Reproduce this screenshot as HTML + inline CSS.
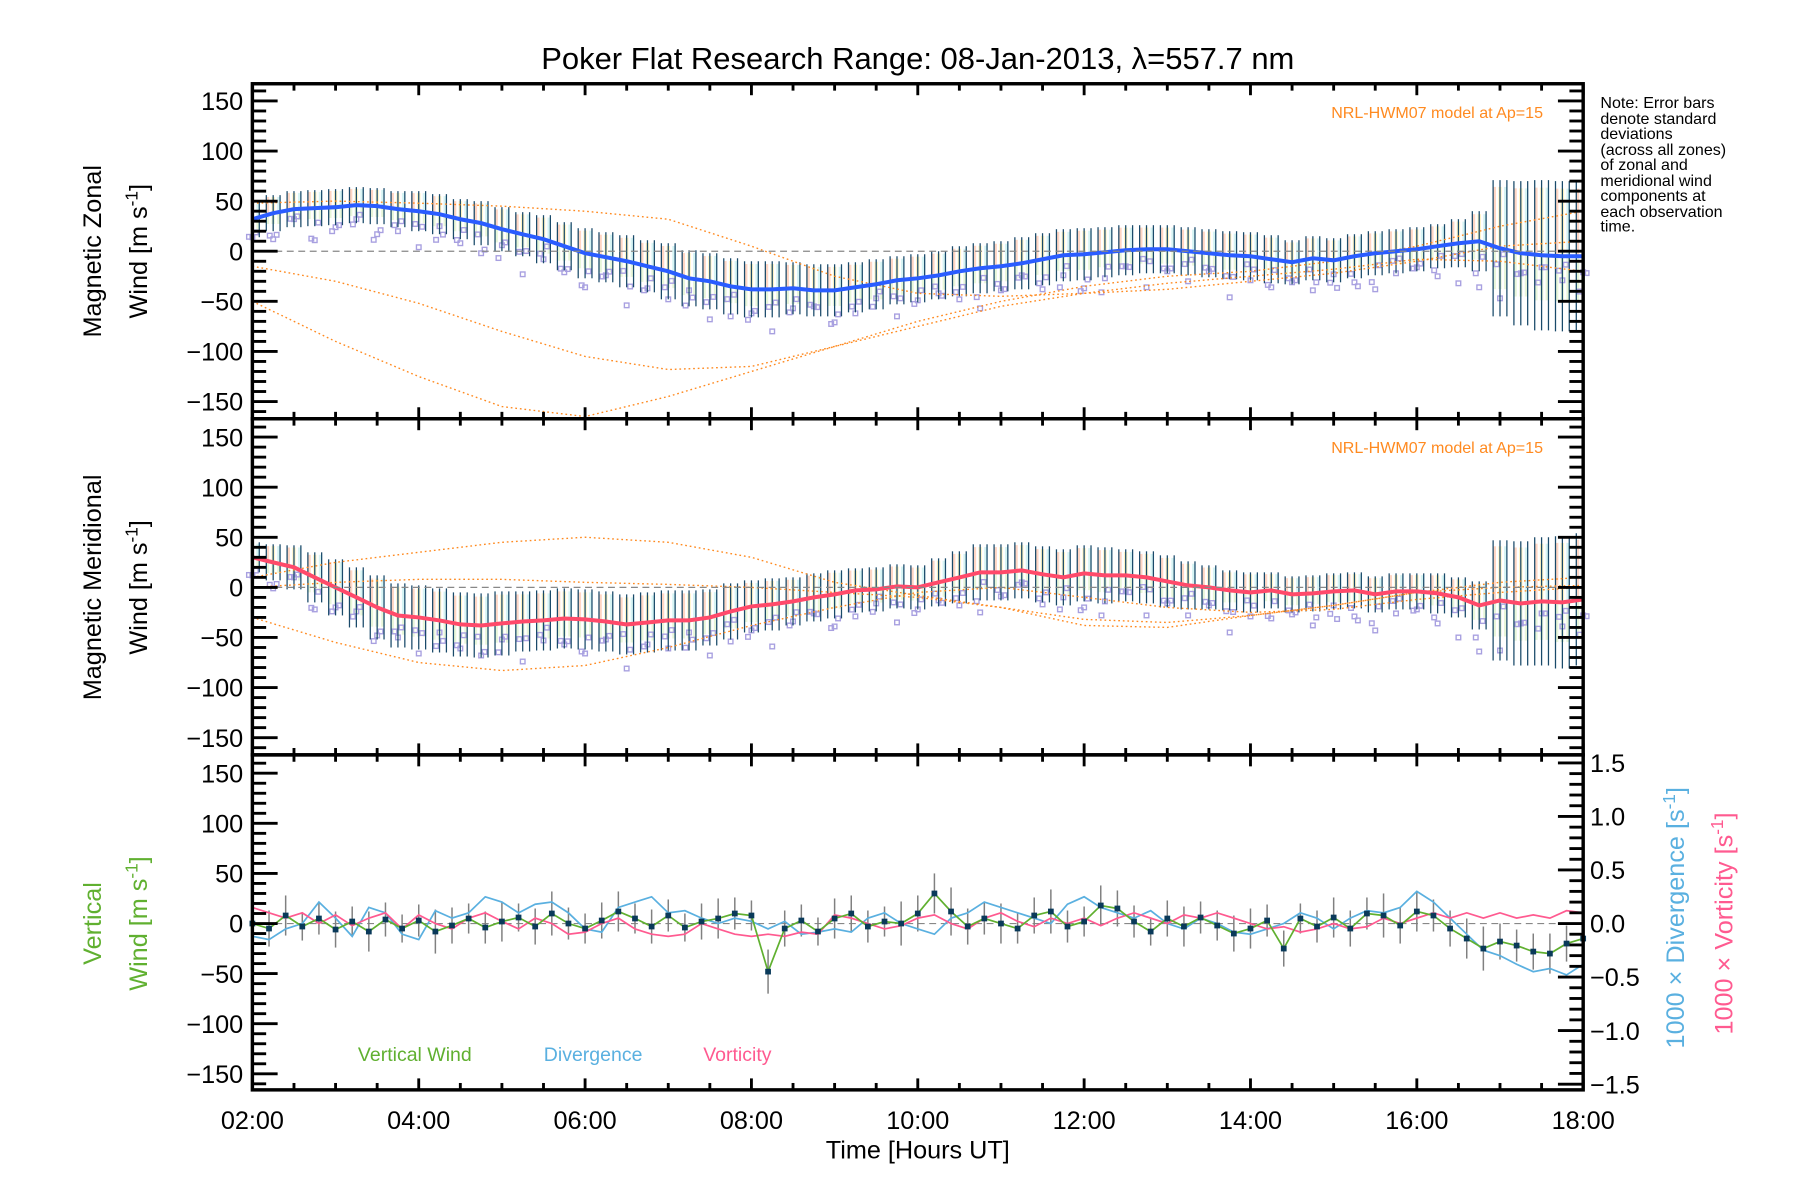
<!DOCTYPE html>
<html><head><meta charset="utf-8">
<style>
html,body{margin:0;padding:0;background:#fff;}
svg{display:block;font-family:"Liberation Sans",sans-serif;}
</style></head>
<body>
<svg id="chart" width="1800" height="1200" viewBox="0 0 1569 1046" preserveAspectRatio="none" xmlns="http://www.w3.org/2000/svg">
<rect x="0" y="0" width="1569" height="1046" fill="#fff"/>
<text x="800" y="60" font-size="27" text-anchor="middle">Poker Flat Research Range: 08-Jan-2013, λ=557.7 nm</text>
<g id="layer"></g>
</svg>
<script>
// ---- data ----
const zonalMean=[32,38,42,43,44,46,45,42,40,37,32,28,22,17,12,5,-2,-6,-10,-15,-20,-27,-30,-35,-38,-38,-37,-39,-39,-36,-33,-29,-27,-24,-20,-17,-15,-12,-8,-4,-3,-1,1,2,2,0,-2,-4,-5,-8,-11,-7,-9,-5,-2,0,2,5,8,10,3,-2,-4,-5,-5];
const zonalStd=[18,18,18,18,18,18,18,18,20,20,20,22,22,22,24,24,25,25,26,26,28,28,28,28,28,28,26,26,26,25,25,24,24,24,25,25,25,26,26,26,26,25,25,24,24,24,24,24,24,24,22,22,22,22,22,22,22,22,24,30,68,72,75,75,75];
const meridMean=[30,25,20,10,0,-10,-20,-28,-30,-33,-37,-38,-36,-34,-33,-31,-32,-34,-37,-35,-33,-33,-30,-24,-19,-17,-14,-10,-7,-3,-2,1,0,5,10,15,15,17,13,10,14,12,12,10,6,2,0,-3,-5,-3,-7,-6,-4,-3,-7,-4,-4,-6,-10,-18,-13,-16,-14,-15,-12];
const meridStd=[15,18,22,25,28,30,32,32,32,32,32,32,32,30,30,30,30,30,30,30,30,30,28,28,26,26,24,24,24,22,22,22,22,24,26,28,28,28,28,28,28,28,26,26,26,24,22,20,20,18,18,18,18,18,18,18,18,20,20,24,60,62,64,66,66];
const scatterOffsets=[-18,-26,-10,-32,-20,-14,-28,-22,-36,-12,-24,-30,-16,-40,-20,-26,-34,-18,-44,-22,-28,-12,-38,-30,-24,-42,-20,-16,-32,-26,-14,-36,-22,-18,-28,-40,-24,-12,-30,-20,-34,-26,-16,-38,-22,-30,-18,-42,-24,-28,-20,-32,-14,-26,-36,-22,-18,-30,-40,-46,-50,-20,-12,-24,-16];
const modelHours=[2,3,4,5,6,7,8,9,10,11,12,13,14,15,16,17,18];
const zonalModelA=[48,50,48,45,40,32,5,-25,-42,-45,-42,-38,-30,-22,-10,5,10];
const zonalModelB=[-15,-30,-52,-80,-105,-118,-115,-95,-75,-55,-42,-32,-25,-18,-8,-10,-20];
const zonalModelC=[-50,-90,-125,-155,-165,-145,-120,-95,-70,-50,-35,-25,-20,-10,5,25,40];
const meridModelA=[10,25,35,45,50,45,30,5,-8,-20,-32,-35,-28,-18,-5,5,10];
const meridModelB=[-30,-55,-75,-83,-78,-60,-38,-20,-5,0,-10,-20,-25,-22,-12,-5,0];
const meridModelC=[0,5,8,8,5,3,0,-5,-10,-20,-38,-40,-28,-18,-5,0,2];
const vertWind=[0,-5,8,-3,5,-6,2,-8,4,-5,3,-8,-2,5,-4,2,6,-3,10,0,-5,3,12,5,-3,8,-4,2,5,10,8,-48,-5,3,-8,5,10,-3,2,0,10,30,12,-3,5,0,-5,8,12,-3,2,18,15,2,-8,5,-3,6,-2,-10,-5,3,-25,5,-3,6,-5,10,8,-2,12,8,-5,-15,-25,-18,-22,-28,-30,-20,-15];
const vertErr=[15,18,20,14,16,18,15,20,17,14,16,22,18,15,16,20,14,18,22,16,15,18,20,15,17,16,14,18,20,16,15,22,18,16,14,20,18,16,15,22,18,20,24,18,16,20,15,18,22,16,15,20,18,16,14,18,20,16,15,18,20,16,18,15,16,20,18,16,22,18,20,16,18,20,22,18,16,18,20,18,16];
const divergence=[-0.12,-0.15,-0.05,0.0,0.2,0.05,-0.12,0.15,0.1,-0.1,-0.15,0.12,0.05,0.1,0.25,0.2,0.1,0.18,0.2,0.1,-0.05,-0.08,0.15,0.2,0.25,0.1,0.12,0.05,0.0,0.05,0.02,-0.05,0.02,-0.1,-0.08,-0.05,-0.08,0.05,0.1,0.0,-0.05,-0.1,0.05,0.1,0.2,0.15,0.1,0.05,0.0,0.18,0.25,0.15,0.1,0.05,0.12,0.0,-0.05,0.05,0.0,-0.08,-0.1,-0.05,0.0,0.1,0.05,-0.05,0.05,0.12,0.1,0.15,0.3,0.2,0.05,-0.1,-0.25,-0.3,-0.38,-0.45,-0.42,-0.48,-0.38];
const vorticity=[0.15,0.1,0.05,0.1,0.0,0.08,-0.02,0.05,0.1,-0.05,0.08,0.0,-0.05,0.05,0.1,0.02,-0.05,0.05,0.0,-0.1,-0.08,0.0,0.05,-0.05,-0.1,-0.12,-0.1,0.0,-0.05,-0.1,-0.12,-0.1,-0.12,-0.08,-0.1,0.08,0.05,0.0,-0.05,-0.02,0.05,0.08,0.0,-0.05,0.05,0.1,0.02,-0.03,0.05,0.0,0.05,-0.02,0.05,0.1,0.05,0.0,0.08,0.05,0.1,0.05,0.0,-0.05,-0.03,-0.08,-0.05,0.0,-0.05,-0.03,0.05,0.0,0.05,0.1,0.05,0.1,0.05,0.1,0.05,0.08,0.05,0.12,0.1];
const xTickLabels=["02:00","04:00","06:00","08:00","10:00","12:00","14:00","16:00","18:00"];
const yTickValues=[150,100,50,0,-50,-100,-150];
const rightTickValues=[1.5,1.0,0.5,0.0,-0.5,-1.0,-1.5];

// ---- layout ----
const NS="http://www.w3.org/2000/svg";
const layer=document.getElementById('layer');
const X0=220,X1=1380;
const panels=[{top:73,bot:365,zero:219},{top:365,bot:658,zero:512},{top:658,bot:950,zero:805}];
const PXU=131/150;
function xs(h){return X0+(h-2)*(X1-X0)/16;}
function ys(p,v){return panels[p].zero-v*PXU;}
function yr(v){return 805-v*(140/1.5);}
function tAt(i,n){return 2+i*16/(n-1);}
function mk(tag,attrs,parent){const e=document.createElementNS(NS,tag);for(const k in attrs)e.setAttribute(k,attrs[k]);(parent||layer).appendChild(e);return e;}
function poly(pts,attrs){return mk('polyline',Object.assign({points:pts.map(p=>p[0].toFixed(1)+','+p[1].toFixed(1)).join(' '),fill:'none'},attrs));}
function clip(v){return Math.max(-166,Math.min(166,v));}

// panels 1 and 2
[[zonalMean,zonalStd,[zonalModelA,zonalModelB,zonalModelC],'#2a5cff'],[meridMean,meridStd,[meridModelA,meridModelB,meridModelC],'#ff4a6a']].forEach((set,p)=>{
  const [mean,std,models,col]=set;const n=mean.length;
  const g=mk('g',{});
  
  
  const tints=['#ffc8b0','#fff0b0','#c8f0f0'];
  mean.forEach((m,i)=>{
    const x=xs(tAt(i,n));const s=std[i];
    [-5,0,5].forEach((dx,k)=>{
      const xx=x+dx; if(xx<X0+2||xx>X1-2)return;
      const r1=mk('rect',{x:xx-1.5,y:ys(p,clip(m+s*0.9)),width:3,height:s*0.9*PXU,fill:tints[k],opacity:0.75},g);
      
      
      const r2=mk('rect',{x:xx-1.5,y:ys(p,m),width:3,height:s*0.6*PXU,fill:'#d8f0c0',opacity:0.6},g);
      
      
    });
    [[0,scatterOffsets[i]],[3,scatterOffsets[(i+7)%n]*0.6],[-3,scatterOffsets[(i+19)%n]*0.8]].forEach(([dx,off])=>{
      const sq=mk('rect',{x:x+dx-2,y:ys(p,m+off)-2,width:4,height:4,fill:'none',stroke:'#a8a0e0','stroke-width':1.2},g);
      
      
    });
  });
  mean.forEach((m,i)=>{
    const x=xs(tAt(i,n));const s=std[i];
    for(const dx of [-6,0,6]){
      const xx=x+dx; if(xx<X0||xx>X1)continue;
      const l=mk('line',{x1:xx,x2:xx,y1:ys(p,clip(m-s)),y2:ys(p,clip(m+s)),stroke:'#1a4a6a','stroke-width':1.1},g);
      
      
    }
  });
  models.forEach((md)=>{
    const pl=poly(md.map((v,i)=>[xs(modelHours[i]),ys(p,v)]),{stroke:'#ff8a20','stroke-width':1.2,'stroke-dasharray':'1.5 2.5'});
    
    
  });
  const ml=poly(mean.map((v,i)=>[xs(tAt(i,n)),ys(p,v)]),{stroke:col,'stroke-width':3.5});
  
  
  const z=mk('line',{x1:X0,x2:X1,y1:panels[p].zero,y2:panels[p].zero,stroke:'#888','stroke-dasharray':'6 4'});
  
  
  const t=mk('text',{x:1345,y:panels[p].top+30,'font-size':14,fill:'#ff8a20','text-anchor':'end'});
  t.textContent='NRL-HWM07 model at Ap=15';
  
  
});

// panel 3
{
  const z=mk('line',{x1:X0,x2:X1,y1:805,y2:805,stroke:'#888','stroke-dasharray':'6 4'});
  
  
  const n=vertWind.length;
  vertWind.forEach((v,i)=>{
    const x=xs(tAt(i,n));
    const l=mk('line',{x1:x,x2:x,y1:ys(2,v-vertErr[i]),y2:ys(2,v+vertErr[i]),stroke:'#808080','stroke-width':1.3});
    
    
  });
  const dv=poly(divergence.map((v,i)=>[xs(tAt(i,divergence.length)),yr(v)]),{stroke:'#5ab0e0','stroke-width':1.5});
  
  
  const vo=poly(vorticity.map((v,i)=>[xs(tAt(i,vorticity.length)),yr(v)]),{stroke:'#ff5a90','stroke-width':1.5});
  
  
  const vw=poly(vertWind.map((v,i)=>[xs(tAt(i,n)),ys(2,v)]),{stroke:'#60b030','stroke-width':1.5});
  
  
  vertWind.forEach((v,i)=>{
    const d=mk('rect',{x:xs(tAt(i,n))-2.5,y:ys(2,v)-2.5,width:5,height:5,fill:'#0a3a5a'});
    
    
  });
}

// axes
panels.forEach((P,p)=>{
  const f=mk('rect',{x:X0,y:P.top,width:X1-X0,height:P.bot-P.top,fill:'none',stroke:'#000','stroke-width':3});
  
  
  for(let v=-160;v<=160;v+=10){
    const y=ys(p,v);const maj=v%50==0;const L=maj?22:12;
    mk('line',{x1:X0,x2:X0+L,y1:y,y2:y,stroke:'#000','stroke-width':2.5});
    if(p<2)mk('line',{x1:X1,x2:X1-L,y1:y,y2:y,stroke:'#000','stroke-width':2.5});
  }
  yTickValues.forEach(v=>{
    const t=mk('text',{x:212,y:ys(p,v)+8,'font-size':22,'text-anchor':'end'});
    t.textContent=v<0?'\u2212'+(-v):String(v);
    
    
  });
  for(let h=2;h<=18.001;h+=0.5){
    const x=xs(h);const maj=Math.abs(h%2)<0.01;const L=maj?10:6;
    mk('line',{x1:x,x2:x,y1:P.top,y2:P.top+L,stroke:'#000','stroke-width':2.5});
    mk('line',{x1:x,x2:x,y1:P.bot,y2:P.bot-L,stroke:'#000','stroke-width':2.5});
  }
});
for(let v=-1.5;v<=1.501;v+=0.1){
  const y=yr(v);const maj=Math.abs(Math.round(v*10)%5)==0;
  mk('line',{x1:X1,x2:X1-(maj?22:12),y1:y,y2:y,stroke:'#000','stroke-width':2.5});
}
rightTickValues.forEach(v=>{
  const t=mk('text',{x:1386,y:yr(v)+8,'font-size':22});
  t.textContent=(v<0?'\u2212':'')+Math.abs(v).toFixed(1);
  
  
});
xTickLabels.forEach((s,i)=>{
  const t=mk('text',{x:xs(2+i*2),y:984,'font-size':22,'text-anchor':'middle'});
  t.textContent=s;
  
  
});
</script>
<svg style="position:absolute;left:0;top:0" width="1800" height="1200" viewBox="0 0 1569 1046" preserveAspectRatio="none">
<g font-family="Liberation Sans, sans-serif">
<text x="800" y="1010" font-size="22" text-anchor="middle">Time [Hours UT]</text>
<text transform="translate(88,219) rotate(-90)" font-size="22" text-anchor="middle">Magnetic Zonal</text>
<text transform="translate(128,219) rotate(-90)" font-size="22" text-anchor="middle">Wind [m s<tspan dy="-8" font-size="15">-1</tspan><tspan dy="8">]</tspan></text>
<text transform="translate(88,512) rotate(-90)" font-size="22" text-anchor="middle">Magnetic Meridional</text>
<text transform="translate(128,512) rotate(-90)" font-size="22" text-anchor="middle">Wind [m s<tspan dy="-8" font-size="15">-1</tspan><tspan dy="8">]</tspan></text>
<text transform="translate(88,805) rotate(-90)" font-size="22" fill="#60b030" text-anchor="middle">Vertical</text>
<text transform="translate(128,805) rotate(-90)" font-size="22" fill="#60b030" text-anchor="middle">Wind [m s<tspan dy="-8" font-size="15">-1</tspan><tspan dy="8">]</tspan></text>
<text transform="translate(1468,800) rotate(-90)" font-size="22" fill="#5ab0e0" text-anchor="middle">1000 × Divergence [s<tspan dy="-8" font-size="15">-1</tspan><tspan dy="8">]</tspan></text>
<text transform="translate(1510,805) rotate(-90)" font-size="22" fill="#ff5a90" text-anchor="middle">1000 × Vorticity [s<tspan dy="-8" font-size="15">-1</tspan><tspan dy="8">]</tspan></text>
<text x="312" y="925" font-size="17" fill="#60b030">Vertical Wind</text>
<text x="474" y="925" font-size="17" fill="#5ab0e0">Divergence</text>
<text x="613" y="925" font-size="17" fill="#ff5a90">Vorticity</text>
<g font-size="14">
<text x="1395" y="94">Note: Error bars</text>
<text x="1395" y="108">denote standard</text>
<text x="1395" y="121">deviations</text>
<text x="1395" y="135">(across all zones)</text>
<text x="1395" y="148">of zonal and</text>
<text x="1395" y="162">meridional wind</text>
<text x="1395" y="175">components at</text>
<text x="1395" y="189">each observation</text>
<text x="1395" y="202">time.</text>
</g>
</g>
</svg>
</body></html>
